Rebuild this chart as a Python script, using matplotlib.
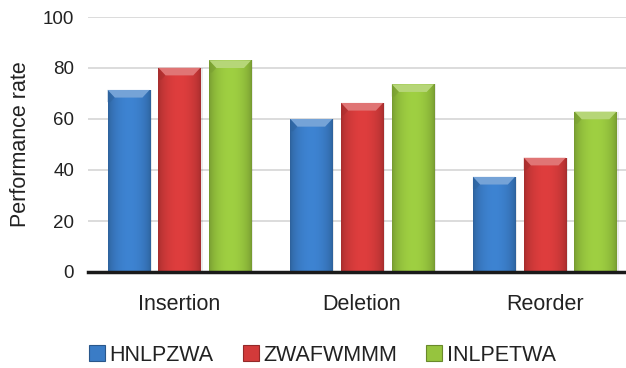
import matplotlib.pyplot as plt
import numpy as np
from matplotlib.patches import Patch, Polygon
from matplotlib.colors import to_rgb

plt.rcParams['font.family'] = ['Liberation Sans', 'DejaVu Sans']

categories = ['Insertion', 'Deletion', 'Reorder']
series = ['HNLPZWA', 'ZWAFWMMM', 'INLPETWA']
hnlpzwa = [71.4, 60.0, 37.3]
zwafwmmm = [80.1, 66.3, 44.8]
inlpetwa = [83.0, 73.6, 62.9]
colors = ['#3a7cc6', '#d23a3a', '#96c43e']

values = [hnlpzwa, zwafwmmm, inlpetwa]

fig = plt.figure(figsize=(6.26, 3.68), dpi=100)
ax = fig.add_axes([88 / 626, 96 / 368, 1 - 88 / 626, 255 / 368])

x = np.arange(len(categories))
width = 0.23
offsets = [-0.278, 0.0, 0.278]


def shade(c, f):
    r = np.array(to_rgb(c)) * f
    return np.clip(r, 0, 1)


def lighten(c, f):
    r = np.array(to_rgb(c))
    return r + (1 - r) * f


# horizontal shading across a bar: dark rims, brighter middle
u = np.linspace(0, 1, 60)
profile = 0.78 + 0.28 * np.sin(np.pi * u) ** 0.6

for vals, col, off in zip(values, colors, offsets):
    bars = ax.bar(x + off, vals, width, color=col, zorder=2)
    for b, v in zip(bars, vals):
        x0 = b.get_x()
        # soft shadow to the right
        ax.bar(x0 + width / 2 + 0.012, v, width, color='#000000', alpha=0.08, zorder=1.5)
        img = np.array([[shade(col, f) for f in profile]])
        im = ax.imshow(img, extent=[x0, x0 + width, 0, v], aspect='auto',
                       interpolation='bilinear', zorder=2.1)
        im.set_clip_path(b)
        # bevelled top cap
        dx = width * 0.17
        dy = 3.0
        cap = Polygon([[x0, v], [x0 + width, v], [x0 + width - dx, v - dy], [x0 + dx, v - dy]],
                      closed=True, facecolor=lighten(col, 0.3), edgecolor='none', zorder=2.2)
        ax.add_patch(cap)
        left = Polygon([[x0, v], [x0 + dx, v - dy], [x0 + dx * 0.4, v - dy * 1.6], [x0, v - dy * 1.6]],
                       closed=True, facecolor=shade(col, 0.8), edgecolor='none', zorder=2.2, alpha=0.5)
        ax.add_patch(left)

ax.set_xlim(-0.5, 2.445)
ax.set_ylim(0, 100)
ax.set_yticks(np.arange(0, 101, 20))
ax.set_xticks(x)
ax.set_xticklabels(categories, fontsize=15.5, color='#222222')
ax.tick_params(axis='x', length=0, pad=15.5)
ax.tick_params(axis='y', length=0, pad=10, labelsize=13.5, labelcolor='#222222')
ax.yaxis.grid(True, color='#d6d6d6', linewidth=1.2, zorder=0)
ax.set_axisbelow(True)
for s in ['top', 'right', 'left']:
    ax.spines[s].set_visible(False)
ax.spines['bottom'].set_color('#1a1a1a')
ax.spines['bottom'].set_linewidth(2.5)
ax.spines['bottom'].set_zorder(3)
ax.set_ylabel('Performance rate', fontsize=15.5, color='#222222')
ax.yaxis.set_label_coords(-0.106, 0.5)

handles = [Patch(facecolor=c, edgecolor=shade(c, 0.7), linewidth=0.8) for c in colors]
fig.legend(handles, series, loc='center', bbox_to_anchor=(0.515, 0.035), ncol=3,
           frameon=False, fontsize=15.5, handlelength=0.75, handleheight=0.75,
           handletextpad=0.2, columnspacing=1.35, labelcolor='#222222')

fig.savefig('out.png', dpi=100)
